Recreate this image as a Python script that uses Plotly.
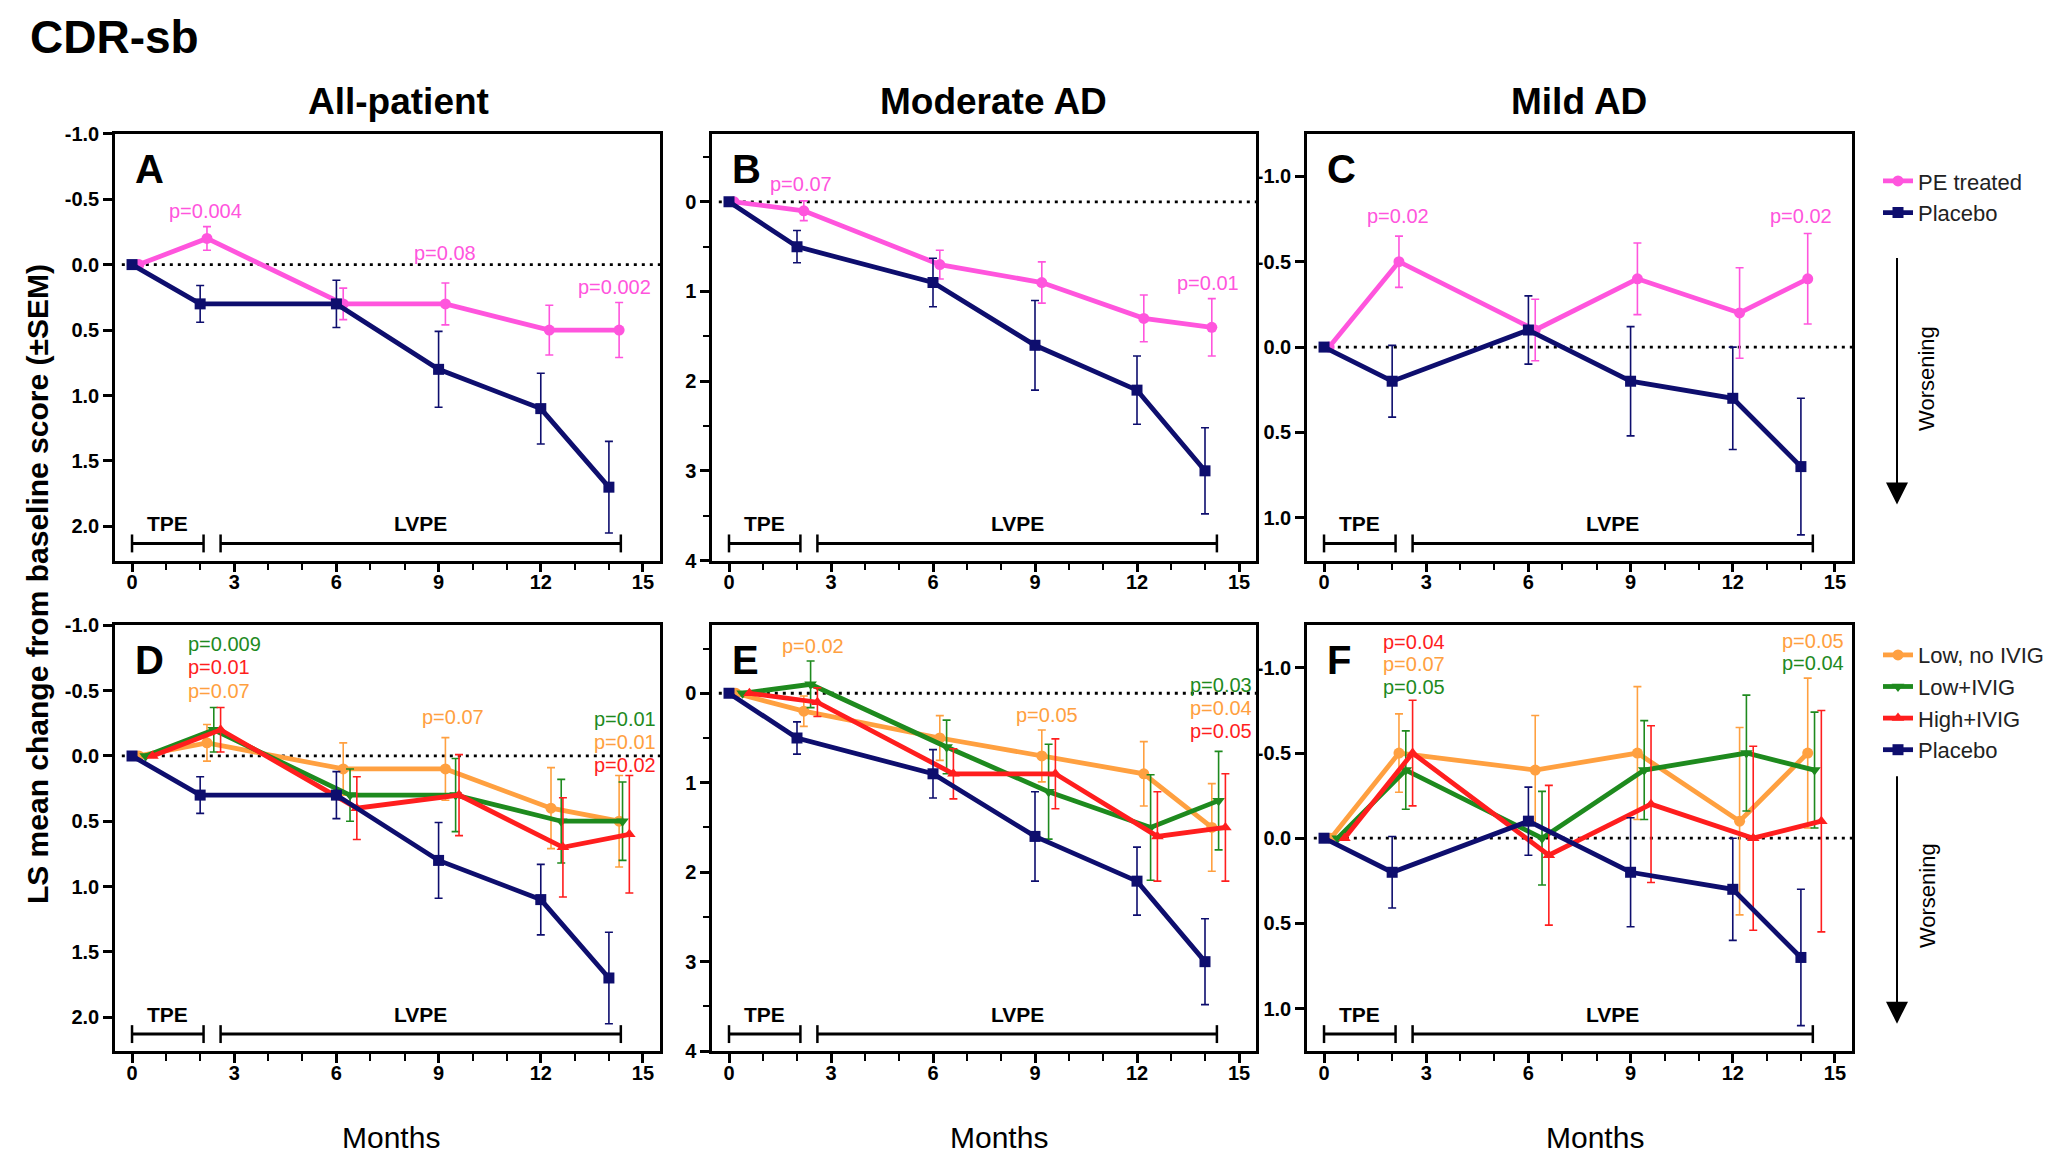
import plotly.graph_objects as go

FONT = "Liberation Sans, Arial, Helvetica, sans-serif"

PINK = "#FF55DD"
NAVY = "#0E0E6E"
ORANGE = "#FFA040"
GREEN = "#1E8A1E"
RED = "#FF1E1E"

# ---------------- data (months, LS mean change, SEM) ----------------
placebo_months = [0, 2, 6, 9, 12, 14]

# All-patient
all_placebo_y = [0, 0.3, 0.3, 0.8, 1.1, 1.7]
all_placebo_err = [0, 0.14, 0.18, 0.29, 0.27, 0.35]
all_pe_months = [0.2, 2.2, 6.2, 9.2, 12.25, 14.3]
all_pe_y = [0, -0.2, 0.3, 0.3, 0.5, 0.5]
all_pe_err = [0, 0.09, 0.12, 0.16, 0.19, 0.21]

# Moderate AD
mod_placebo_y = [0, 0.5, 0.9, 1.6, 2.1, 3.0]
mod_placebo_err = [0, 0.18, 0.27, 0.5, 0.38, 0.48]
mod_pe_months = [0.15, 2.2, 6.2, 9.2, 12.2, 14.2]
mod_pe_y = [0, 0.1, 0.7, 0.9, 1.3, 1.4]
mod_pe_err = [0, 0.11, 0.16, 0.23, 0.26, 0.32]

# Mild AD
mild_placebo_y = [0, 0.2, -0.1, 0.2, 0.3, 0.7]
mild_placebo_err = [0, 0.21, 0.2, 0.32, 0.3, 0.4]
mild_pe_months = [0.15, 2.2, 6.2, 9.2, 12.2, 14.2]
mild_pe_y = [0, -0.5, -0.1, -0.4, -0.2, -0.4]
mild_pe_err = [0, 0.15, 0.18, 0.21, 0.265, 0.265]

# Subgroup months
d_low_months = [0.2, 2.2, 6.2, 9.2, 12.3, 14.3]
d_lowivig_months = [0.4, 2.4, 6.4, 9.5, 12.6, 14.4]
d_high_months = [0.6, 2.6, 6.6, 9.6, 12.65, 14.6]
low_months = [0.2, 2.2, 6.2, 9.2, 12.2, 14.2]
lowivig_months = [0.4, 2.4, 6.4, 9.4, 12.4, 14.4]
high_months = [0.6, 2.6, 6.6, 9.6, 12.6, 14.6]

# All-patient subgroups
all_low_y = [0, -0.1, 0.1, 0.1, 0.4, 0.5]
all_low_err = [0, 0.14, 0.2, 0.24, 0.31, 0.35]
all_lowivig_y = [0, -0.2, 0.3, 0.3, 0.5, 0.5]
all_lowivig_err = [0, 0.17, 0.2, 0.28, 0.32, 0.3]
all_high_y = [0, -0.2, 0.4, 0.3, 0.7, 0.6]
all_high_err = [0, 0.17, 0.24, 0.31, 0.38, 0.45]

# Moderate AD subgroups
mod_low_y = [0, 0.2, 0.5, 0.7, 0.9, 1.5]
mod_low_err = [0, 0.17, 0.25, 0.29, 0.36, 0.49]
mod_lowivig_y = [0, -0.1, 0.6, 1.1, 1.5, 1.2]
mod_lowivig_err = [0, 0.26, 0.3, 0.53, 0.59, 0.55]
mod_high_y = [0, 0.1, 0.9, 0.9, 1.6, 1.5]
mod_high_err = [0, 0.16, 0.28, 0.39, 0.5, 0.6]

# Mild AD subgroups
mild_low_y = [0, -0.5, -0.4, -0.5, -0.1, -0.5]
mild_low_err = [0, 0.23, 0.32, 0.39, 0.55, 0.44]
mild_lowivig_y = [0, -0.4, 0.0, -0.4, -0.5, -0.4]
mild_lowivig_err = [0, 0.23, 0.275, 0.29, 0.34, 0.34]
mild_high_y = [0, -0.5, 0.1, -0.2, 0.0, -0.1]
mild_high_err = [0, 0.31, 0.41, 0.46, 0.54, 0.65]

# Treatment phases (months)
phase_names = ["TPE", "LVPE"]
phase_start = [0, 2.6]
phase_end = [2.1, 14.35]

# x tick labels
month_ticks = [0, 3, 6, 9, 12, 15]

# p-value labels per panel: (text, month, value, colour, anchor)
pvals_A = [("p=0.004", 2.17, -0.41, PINK, "center"), ("p=0.08", 9.18, -0.09, PINK, "center"),
           ("p=0.002", 14.17, 0.17, PINK, "center")]
pvals_B = [("p=0.07", 2.13, -0.195, PINK, "center"), ("p=0.01", 14.1, 0.90, PINK, "center")]
pvals_C = [("p=0.02", 2.18, -0.77, PINK, "center"), ("p=0.02", 14.0, -0.77, PINK, "center")]
pvals_D = [("p=0.009", 1.59, -0.855, GREEN, "left"), ("p=0.01", 1.59, -0.68, RED, "left"),
           ("p=0.07", 1.59, -0.5, ORANGE, "left"), ("p=0.07", 9.42, -0.3, ORANGE, "center"),
           ("p=0.01", 13.5, -0.28, GREEN, "left"), ("p=0.01", 13.5, -0.105, ORANGE, "left"),
           ("p=0.02", 13.5, 0.07, RED, "left")]
pvals_E = [("p=0.02", 2.47, -0.53, ORANGE, "center"), ("p=0.05", 9.35, 0.24, ORANGE, "center"),
           ("p=0.03", 13.5, -0.09, GREEN, "left"), ("p=0.04", 13.5, 0.17, ORANGE, "left"),
           ("p=0.05", 13.5, 0.425, RED, "left")]
pvals_F = [("p=0.04", 1.68, -1.153, RED, "left"), ("p=0.07", 1.68, -1.02, ORANGE, "left"),
           ("p=0.05", 1.68, -0.888, GREEN, "left"), ("p=0.05", 13.4, -1.16, ORANGE, "left"),
           ("p=0.04", 13.4, -1.03, GREEN, "left")]

# ---------------- layout geometry ----------------
W, H = 2070, 1174
col_px = [(115, 660), (712, 1256), (1307, 1852)]
row_px = [(125, 560), (626, 1060)]


def xd(a, b):
    return [a / W, b / W]


def yd(a, b):
    return [1 - b / H, 1 - a / H]


panels = [
    dict(letter="A", row=0, col=0, yrange=[2.26, -1.0], yticks=[-1, -0.5, 0, 0.5, 1, 1.5, 2], fmt=".1f", minor=False,
         series=[("PE treated", all_pe_months, all_pe_y, all_pe_err, PINK, "circle"),
                 ("Placebo", placebo_months, all_placebo_y, all_placebo_err, NAVY, "square")],
         pvals=pvals_A, legend=None),
    dict(letter="B", row=0, col=1, yrange=[4.0, -0.76], yticks=[0, 1, 2, 3, 4], fmt="d", minor=True,
         series=[("PE treated", mod_pe_months, mod_pe_y, mod_pe_err, PINK, "circle"),
                 ("Placebo", placebo_months, mod_placebo_y, mod_placebo_err, NAVY, "square")],
         pvals=pvals_B, legend=None),
    dict(letter="C", row=0, col=2, yrange=[1.25, -1.25], yticks=[-1, -0.5, 0, 0.5, 1], fmt=".1f", minor=False,
         series=[("PE treated", mild_pe_months, mild_pe_y, mild_pe_err, PINK, "circle"),
                 ("Placebo", placebo_months, mild_placebo_y, mild_placebo_err, NAVY, "square")],
         pvals=pvals_C, legend="legend"),
    dict(letter="D", row=1, col=0, yrange=[2.26, -1.0], yticks=[-1, -0.5, 0, 0.5, 1, 1.5, 2], fmt=".1f", minor=False,
         series=[("Low, no IVIG", d_low_months, all_low_y, all_low_err, ORANGE, "circle"),
                 ("Low+IVIG", d_lowivig_months, all_lowivig_y, all_lowivig_err, GREEN, "triangle-down"),
                 ("High+IVIG", d_high_months, all_high_y, all_high_err, RED, "triangle-up"),
                 ("Placebo", placebo_months, all_placebo_y, all_placebo_err, NAVY, "square")],
         pvals=pvals_D, legend=None),
    dict(letter="E", row=1, col=1, yrange=[4.0, -0.76], yticks=[0, 1, 2, 3, 4], fmt="d", minor=True,
         series=[("Low, no IVIG", low_months, mod_low_y, mod_low_err, ORANGE, "circle"),
                 ("Low+IVIG", lowivig_months, mod_lowivig_y, mod_lowivig_err, GREEN, "triangle-down"),
                 ("High+IVIG", high_months, mod_high_y, mod_high_err, RED, "triangle-up"),
                 ("Placebo", placebo_months, mod_placebo_y, mod_placebo_err, NAVY, "square")],
         pvals=pvals_E, legend=None),
    dict(letter="F", row=1, col=2, yrange=[1.25, -1.25], yticks=[-1, -0.5, 0, 0.5, 1], fmt=".1f", minor=False,
         series=[("Low, no IVIG", low_months, mild_low_y, mild_low_err, ORANGE, "circle"),
                 ("Low+IVIG", lowivig_months, mild_lowivig_y, mild_lowivig_err, GREEN, "triangle-down"),
                 ("High+IVIG", high_months, mild_high_y, mild_high_err, RED, "triangle-up"),
                 ("Placebo", placebo_months, mild_placebo_y, mild_placebo_err, NAVY, "square")],
         pvals=pvals_F, legend="legend2"),
]

fig = go.Figure()
annotations = []
shapes = []
layout = {}

for i, p in enumerate(panels):
    n = i + 1
    xa = "x" if n == 1 else f"x{n}"
    ya = "y" if n == 1 else f"y{n}"
    xkey = "xaxis" if n == 1 else f"xaxis{n}"
    ykey = "yaxis" if n == 1 else f"yaxis{n}"
    c0, c1 = col_px[p["col"]]
    r0, r1 = row_px[p["row"]]

    layout[xkey] = dict(
        domain=xd(c0, c1), anchor=ya, range=[-0.5, 15.5],
        tickmode="array", tickvals=month_ticks, ticktext=[str(t) for t in month_ticks],
        ticks="outside", ticklen=9, tickwidth=2.5, tickcolor="black",
        minor=dict(ticks="outside", tickmode="linear", tick0=0, dtick=1, ticklen=7, tickwidth=2, tickcolor="black"),
        showline=True, linewidth=2.5, linecolor="black", mirror=True,
        showgrid=False, zeroline=False, ticklabelstandoff=-7,
        tickfont=dict(family=FONT, size=20, color="black", weight="bold"),
    )
    ydict = dict(
        domain=yd(r0, r1), anchor=xa, range=p["yrange"],
        tickmode="array", tickvals=p["yticks"],
        ticktext=[(f"{v:.1f}" if p["fmt"] == ".1f" else f"{int(v)}") for v in p["yticks"]],
        ticks="outside", ticklen=9, tickwidth=2.5, tickcolor="black",
        showline=True, linewidth=2.5, linecolor="black", mirror=True,
        showgrid=False, zeroline=False,
        tickfont=dict(family=FONT, size=20, color="black", weight="bold"),
    )
    if p["minor"]:
        ydict["minor"] = dict(ticks="outside", tickmode="linear", tick0=0, dtick=0.5, ticklen=6,
                              tickwidth=2, tickcolor="black")
    layout[ykey] = ydict

    # dotted zero line
    shapes.append(dict(type="line", xref=xa, yref=ya, x0=-0.3, x1=15.5, y0=0, y1=0,
                       line=dict(color="black", width=2.8, dash="3px,5px"), layer="below"))

    # treatment phase brackets
    for name, s, e in zip(phase_names, phase_start, phase_end):
        yr = f"{ya} domain"
        shapes.append(dict(type="line", xref=xa, yref=yr, x0=s, x1=e, y0=0.04, y1=0.04,
                           line=dict(color="black", width=3)))
        for xx in (s, e):
            shapes.append(dict(type="line", xref=xa, yref=yr, x0=xx, x1=xx, y0=0.019, y1=0.061,
                               line=dict(color="black", width=2.5)))
        annotations.append(dict(text=name, xref=xa, yref=yr, x=(s + e) / 2, y=0.087,
                                showarrow=False, xanchor="center", yanchor="middle",
                                font=dict(family=FONT, size=21, color="black", weight="bold")))

    # panel letter
    annotations.append(dict(text=p["letter"], xref=f"{xa} domain", yref=f"{ya} domain",
                            x=0.033, y=0.918, xanchor="left", yanchor="middle", showarrow=False,
                            font=dict(family=FONT, size=40, color="black", weight="bold")))

    # p-values
    for txt, mx, vy, colr, anc in p["pvals"]:
        annotations.append(dict(text=txt, xref=xa, yref=ya, x=mx, y=vy, xanchor=anc, yanchor="middle",
                                showarrow=False, font=dict(family=FONT, size=20, color=colr)))

    # series
    for name, mx, vy, err, colr, sym in p["series"]:
        fig.add_trace(go.Scatter(
            x=mx, y=vy, mode="lines+markers", name=name, xaxis=xa, yaxis=ya,
            line=dict(color=colr, width=4.8),
            marker=dict(symbol=sym, size=11, color=colr),
            error_y=dict(type="data", array=err, visible=True, color=colr, thickness=1.6, width=4),
            showlegend=p["legend"] is not None,
            legend=p["legend"] if p["legend"] else "legend",
        ))

# titles and labels
annotations += [
    dict(text="CDR-sb", xref="paper", yref="paper", x=28 / W, y=1 - 27 / H, xanchor="left", yanchor="middle",
         showarrow=False, font=dict(family=FONT, size=46, color="black", weight="bold")),
    dict(text="All-patient", xref="paper", yref="paper", x=398 / W, y=1 - 92 / H, xanchor="center",
         yanchor="middle", showarrow=False, font=dict(family=FONT, size=37, color="black", weight="bold")),
    dict(text="Moderate AD", xref="paper", yref="paper", x=993 / W, y=1 - 92 / H, xanchor="center",
         yanchor="middle", showarrow=False, font=dict(family=FONT, size=37, color="black", weight="bold")),
    dict(text="Mild AD", xref="paper", yref="paper", x=1579 / W, y=1 - 92 / H, xanchor="center",
         yanchor="middle", showarrow=False, font=dict(family=FONT, size=37, color="black", weight="bold")),
    dict(text="LS mean change from baseline score (±SEM)", xref="paper", yref="paper", x=37 / W,
         y=1 - 584 / H, xanchor="center", yanchor="middle", textangle=-90, showarrow=False,
         font=dict(family=FONT, size=30, color="black", weight="bold")),
]
for cx in (391, 999, 1595):
    annotations.append(dict(text="Months", xref="paper", yref="paper", x=cx / W, y=1 - 1148 / H,
                            xanchor="center", yanchor="middle", showarrow=False,
                            font=dict(family=FONT, size=30, color="black")))
for (a0, a1, tc) in ((255, 503, 375), (783, 1032, 902)):
    annotations.append(dict(text="", xref="paper", yref="paper", x=1897 / W, y=1 - a1 / H,
                            ax=0, ay=-(a1 - a0), axref="pixel", ayref="pixel", showarrow=True,
                            arrowhead=2, arrowsize=2.2, arrowwidth=2, arrowcolor="black"))
    annotations.append(dict(text="Worsening", xref="paper", yref="paper", x=1927 / W, y=1 - tc / H,
                            xanchor="center", yanchor="middle", textangle=-90, showarrow=False,
                            font=dict(family=FONT, size=22, color="black")))

fig.update_layout(
    width=W, height=H, margin=dict(l=0, r=0, t=0, b=0),
    paper_bgcolor="white", plot_bgcolor="white",
    font=dict(family=FONT, color="black"),
    annotations=annotations, shapes=shapes,
    legend=dict(x=1878 / W, y=1 - 152 / H, xanchor="left", yanchor="top", bgcolor="rgba(0,0,0,0)",
                font=dict(family=FONT, size=22, color="#222"), itemwidth=30, tracegroupgap=0),
    legend2=dict(x=1878 / W, y=1 - 635 / H, xanchor="left", yanchor="top", bgcolor="rgba(0,0,0,0)",
                 font=dict(family=FONT, size=22, color="#222"), itemwidth=30, tracegroupgap=0),
    **layout,
)

fig.write_html("out.html", config={"displayModeBar": False},
               post_script="document.body.style.margin='0';document.body.style.overflow='hidden';")
